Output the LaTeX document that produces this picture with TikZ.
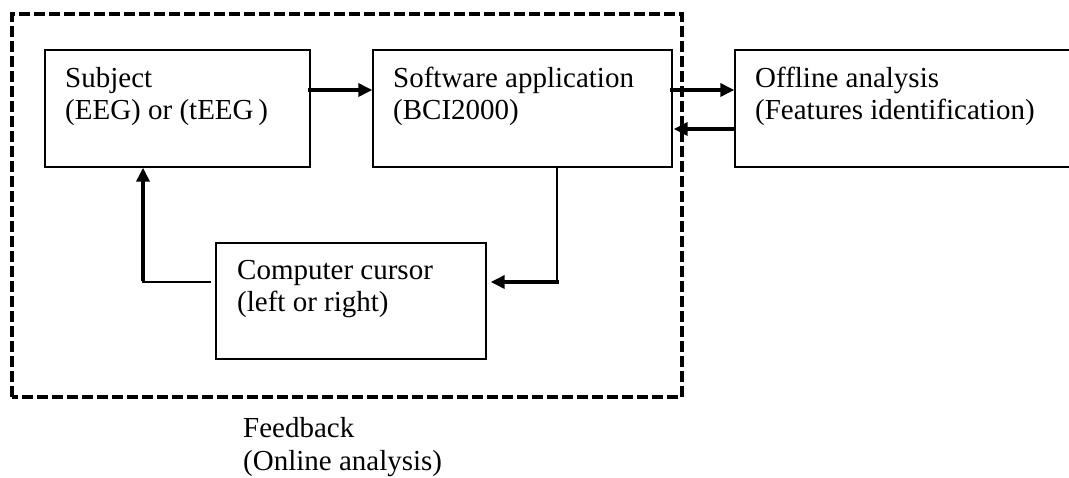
\documentclass[tikz,border=0pt]{standalone}
\usepackage{fontspec}
\setmainfont{Liberation Serif}
\usetikzlibrary{arrows.meta}
\begin{document}
\begin{tikzpicture}[x=1pt,y=-1pt,
  box/.style={draw=black,line width=1.4pt,minimum height=117pt,inner sep=0pt},
  lbl/.style={anchor=base west,inner sep=0pt,font=\fontsize{29}{32}\selectfont},
  thick arr/.style={line width=3.4pt,-{Triangle[length=14pt,width=13pt]}},
  thin line/.style={line width=1.6pt},
  frame/.style={line width=3.4pt,dash pattern=on 11pt off 4pt}]
\clip (0,0) rectangle (1069,477);
\fill[white] (0,0) rectangle (1069,477);
% dashed frame
\draw[frame] (12,397) -- (12,14) -- (682,14) -- (682,397) -- cycle;
% boxes
\node[box,minimum width=265pt] (subject) at (177.5,108.5) {};
\node[box,minimum width=299pt] (software) at (522.5,108.5) {};
\node[box,minimum width=340pt] (offline) at (905,108.5) {};
\node[box,minimum width=270pt,minimum height=116pt] (cursor) at (351,301) {};
% labels
\node[lbl] (t1) at (65,87) {Subject};
\node[lbl] (t2) at (65,119) {(EEG) or (tEEG\,)};
\node[lbl] (t3) at (393,87) {Software application};
\node[lbl] (t4) at (393,119) {(BCI2000)};
\node[lbl] (t5) at (755,87) {Offline analysis};
\node[lbl] (t6) at (755,119) {(Features identification)};
\node[lbl] (t7) at (237,279) {Computer cursor};
\node[lbl] (t8) at (237,311) {(left or right)};
\node[lbl] (t9) at (243,437) {Feedback};
\node[lbl] (t10) at (243,470) {(Online analysis)};
% connectors
\coordinate (c1) at (557,282);
\coordinate (c2) at (143,282);
\draw[thick arr] ([xshift=-3pt]subject.east |- 0,90) -- (software.west |- 0,90);
\draw[thick arr] ([xshift=-3pt]software.east |- 0,90) -- (offline.west |- 0,90);
\draw[thick arr] (offline.west |- 0,129) -- ([xshift=1pt]software.east |- 0,129);
\draw[thin line] (software.south -| c1) -- (c1);
\draw[thick arr] ([xshift=1.5pt]c1) -- ([xshift=4pt]cursor.east |- c1);
\draw[thin line] ([xshift=-4pt]cursor.west |- c2) -- ([xshift=-1.5pt]c2);
\draw[thick arr] ([yshift=1.5pt]c2) -- (subject.south -| c2);
\end{tikzpicture}
\end{document}
